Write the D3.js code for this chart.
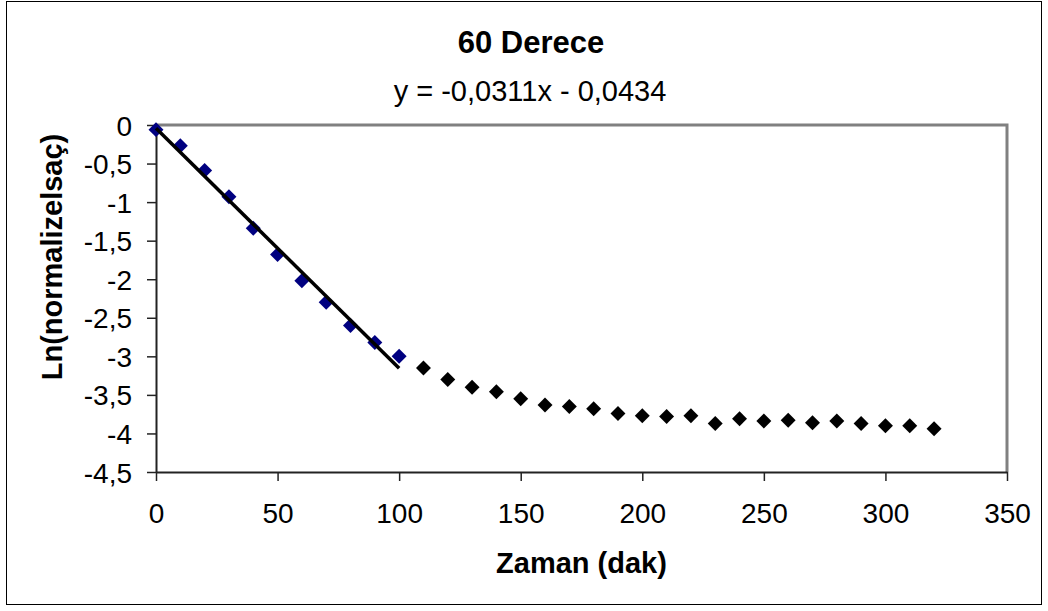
<!DOCTYPE html>
<html>
<head>
  <title>60 Derece</title>
  <script src="https://d3js.org/d3.v7.min.js"></script>
  <style>
    * { margin: 0; box-sizing: border-box; }
    body { background: #fff; }
    text { font-family: "Liberation Sans", Arial, sans-serif; fill: #000; }
  </style>
</head>
<body>
  <script>
    // fitted part (first 100 min)
    const fitTime = [0, 10, 20, 30, 40, 50, 60, 70, 80, 90, 100];
    const fitLn = [-0.06, -0.27, -0.59, -0.93, -1.34, -1.68, -2.02, -2.30, -2.60, -2.82, -3.00];
    // remaining points
    const restTime = [110, 120, 130, 140, 150, 160, 170, 180, 190, 200, 210, 220, 230,
                      240, 250, 260, 270, 280, 290, 300, 310, 320];
    const restLn = [-3.15, -3.30, -3.40, -3.46, -3.55, -3.63, -3.65, -3.68, -3.74, -3.77, -3.78, -3.77, -3.87,
                    -3.81, -3.84, -3.83, -3.86, -3.84, -3.87, -3.90, -3.90, -3.94];
    const slope = -0.0311, intercept = -0.0434;
    const xTicks = [0, 50, 100, 150, 200, 250, 300, 350];
    const yTicks = [0, -0.5, -1, -1.5, -2, -2.5, -3, -3.5, -4, -4.5];

    const width = 1048, height = 611;
    const plot = { left: 156, right: 1007, top: 125, bottom: 472 };

    const svg = d3.select("body").append("svg")
      .attr("width", width)
      .attr("height", height);

    // chart frame
    svg.append("rect")
      .attr("x", 6.5).attr("y", 1.5)
      .attr("width", 1035).attr("height", 603)
      .attr("fill", "#fff").attr("stroke", "#000").attr("stroke-width", 1);

    const x = d3.scaleLinear().domain([0, 350]).range([plot.left, plot.right]);
    const y = d3.scaleLinear().domain([-4.5, 0]).range([plot.bottom, plot.top]);

    const comma = d => String(d).replace(".", ",");

    // top + right border of plot area (gray)
    svg.append("path")
      .attr("d", `M${plot.left},${plot.top}H${plot.right}V${plot.bottom}`)
      .attr("fill", "none").attr("stroke", "#808080").attr("stroke-width", 3);

    const xAxis = svg.append("g")
      .attr("transform", `translate(0,${plot.bottom})`)
      .call(d3.axisBottom(x).tickValues(xTicks).tickSize(9).tickSizeOuter(0).tickFormat(comma));
    const yAxis = svg.append("g")
      .attr("transform", `translate(${plot.left},0)`)
      .call(d3.axisLeft(y).tickValues(yTicks).tickSize(9).tickSizeOuter(0).tickFormat(comma));

    [xAxis, yAxis].forEach(g => {
      g.select(".domain").attr("stroke", "#222").attr("stroke-width", 2);
      g.selectAll(".tick line").attr("stroke", "#222").attr("stroke-width", 1.5);
      g.selectAll(".tick text")
        .style("font-family", "'Liberation Sans', Arial, sans-serif")
        .style("font-size", "28px").attr("fill", "#000");
    });
    xAxis.selectAll(".tick text").attr("y", 31).attr("dy", "0.71em");
    yAxis.selectAll(".tick text").attr("x", -24).attr("dy", "0.36em");

    const diamond = d3.symbol(d3.symbolSquare, 112);

    svg.append("g").selectAll("path")
      .data(fitTime.map((t, i) => [t, fitLn[i]]))
      .join("path")
      .attr("d", diamond)
      .attr("transform", d => `translate(${x(d[0])},${y(d[1])}) rotate(45)`)
      .attr("fill", "#000080");

    svg.append("g").selectAll("path")
      .data(restTime.map((t, i) => [t, restLn[i]]))
      .join("path")
      .attr("d", diamond)
      .attr("transform", d => `translate(${x(d[0])},${y(d[1])}) rotate(45)`)
      .attr("fill", "#000");

    // linear trend line over the first 100 min
    svg.append("line")
      .attr("x1", x(0)).attr("y1", y(intercept))
      .attr("x2", x(100)).attr("y2", y(slope * 100 + intercept))
      .attr("stroke", "#000").attr("stroke-width", 3.5);

    // titles
    svg.append("text")
      .attr("x", 531).attr("y", 53)
      .attr("text-anchor", "middle")
      .style("font-size", "31px").style("font-weight", "bold")
      .text("60 Derece");

    svg.append("text")
      .attr("x", 530).attr("y", 101)
      .attr("text-anchor", "middle")
      .style("font-size", "29px")
      .text("y = -0,0311x - 0,0434");

    svg.append("text")
      .attr("x", (plot.left + plot.right) / 2).attr("y", 573)
      .attr("text-anchor", "middle")
      .style("font-size", "29px").style("font-weight", "bold")
      .text("Zaman (dak)");

    svg.append("text")
      .attr("transform", `translate(62,257) rotate(-90)`)
      .attr("text-anchor", "middle")
      .style("font-size", "29px").style("font-weight", "bold")
      .text("Ln(normalizelsaç)");
  </script>
</body>
</html>
